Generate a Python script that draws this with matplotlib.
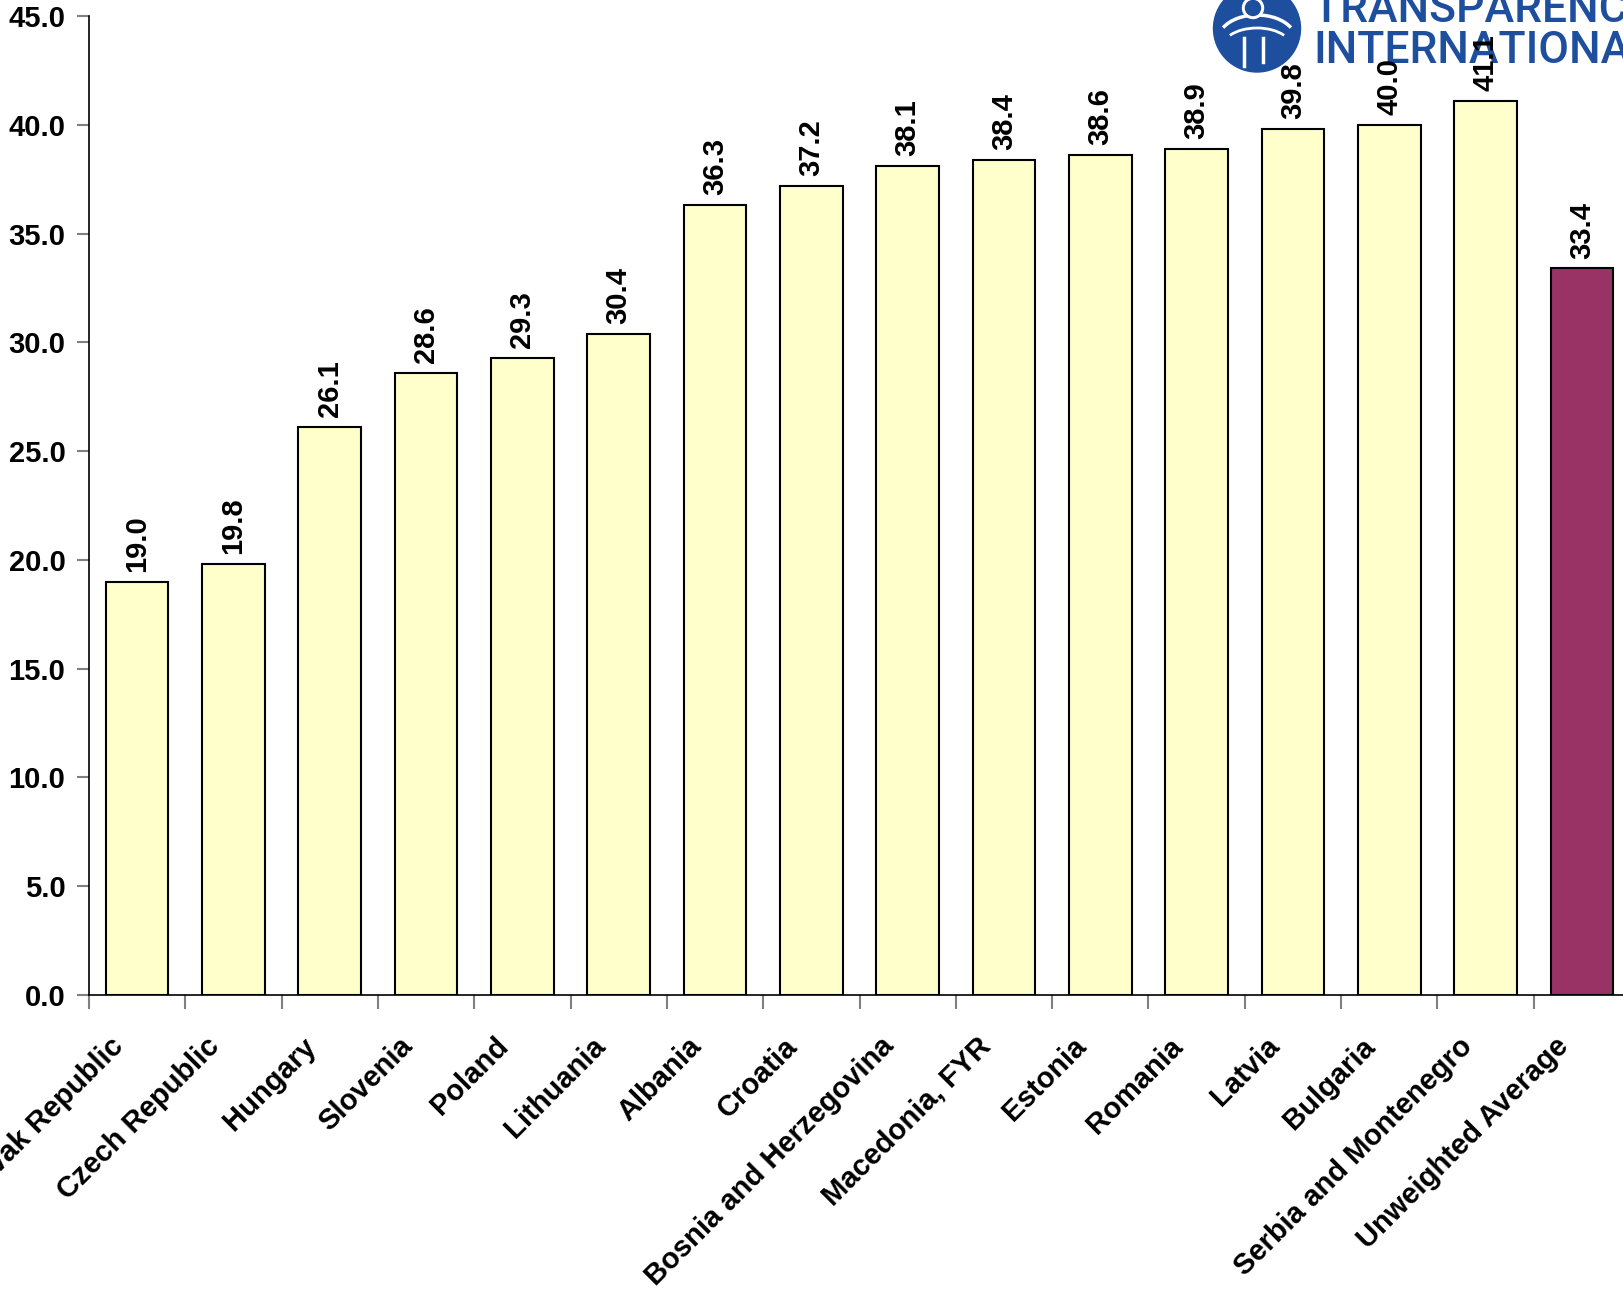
import matplotlib.pyplot as plt
from matplotlib.patches import Circle, Arc
from matplotlib.transforms import ScaledTranslation, blended_transform_factory

plt.rcParams['font.family'] = ['Liberation Sans', 'DejaVu Sans']

countries = ['Slovak Republic', 'Czech Republic', 'Hungary', 'Slovenia', 'Poland',
             'Lithuania', 'Albania', 'Croatia', 'Bosnia and Herzegovina', 'Macedonia, FYR',
             'Estonia', 'Romania', 'Latvia', 'Bulgaria', 'Serbia and Montenegro',
             'Unweighted Average']
values = [19.0, 19.8, 26.1, 28.6, 29.3, 30.4, 36.3, 37.2, 38.1, 38.4, 38.6, 38.9,
          39.8, 40.0, 41.1, 33.4]
yticks = [0, 5, 10, 15, 20, 25, 30, 35, 40, 45]

W, H = 1624, 1305
fig = plt.figure(figsize=(W/100, H/100), dpi=100)

# logo (sits under the chart)
blue = '#1d4f9e'
lx0, lx1, ly0, ly1 = 1200, 1624, 0, 80
axl = fig.add_axes([lx0/W, 1-ly1/H, (lx1-lx0)/W, (ly1-ly0)/H], zorder=0)
axl.set_xlim(lx0, lx1)
axl.set_ylim(ly1, ly0)
axl.axis('off')
axl.add_patch(Circle((1257, 28.5), 43.5, color=blue))
axl.add_patch(Arc((1257, 40), 78, 50, theta1=200, theta2=340, color='white', lw=2.5))
axl.add_patch(Arc((1257, 48), 70, 40, theta1=205, theta2=335, color='white', lw=2))
axl.plot([1244, 1244], [38, 66], color='white', lw=2.5)
axl.plot([1263, 1263], [38, 62], color='white', lw=2.5)
axl.add_patch(Circle((1253, 8), 10.5, color='white'))
axl.add_patch(Circle((1253, 8), 7.5, color=blue))
axl.text(1313, 22, 'TRANSPARENCY', color=blue, fontsize=32, family='Roboto',
         fontweight='medium', ha='left', va='baseline')
axl.text(1313, 63, 'INTERNATIONAL', color=blue, fontsize=32, family='Roboto',
         fontweight='medium', ha='left', va='baseline')

ax = fig.add_axes([89/W, 1-995/H, (1630-89)/W, (995-16)/H], zorder=1)
ax.set_facecolor('none')

colors = ['#ffffcc'] * (len(values) - 1) + ['#993366']
x = range(len(values))
ax.bar(x, values, width=0.65, color=colors, edgecolor='black', linewidth=1.5, zorder=2)

for i, v in enumerate(values):
    ax.text(i, v + 0.45, '%.1f' % v, rotation=90, ha='center', va='bottom',
            fontsize=21, fontweight='bold', zorder=5)

# category labels, placed by hand below the axis
lab_tr = blended_transform_factory(ax.transData, ax.transAxes) + \
    ScaledTranslation(-18/100, -47/100, fig.dpi_scale_trans)
for i, name in enumerate(countries):
    ax.text(i, 0, name, transform=lab_tr, rotation=45, ha='right', va='center',
            rotation_mode='anchor', fontsize=21, fontweight='bold', clip_on=False)

ax.set_xlim(-0.5, 15.5)
ax.set_ylim(0, 45)
ax.set_yticks(yticks)
ax.set_yticklabels(['%.1f' % t for t in yticks], fontsize=21, fontweight='bold')
ax.set_xticks([i + 0.5 for i in range(-1, 16)])
ax.set_xticklabels([])
ax.tick_params(axis='x', length=10, color='#808080', width=1.5, direction='out')
ax.tick_params(axis='y', length=9, color='#808080', width=1.5, pad=8)
for s in ['top', 'right']:
    ax.spines[s].set_visible(False)
ax.spines['left'].set_linewidth(1.2)
ax.spines['bottom'].set_linewidth(1.2)

fig.savefig('out.png', dpi=100)
